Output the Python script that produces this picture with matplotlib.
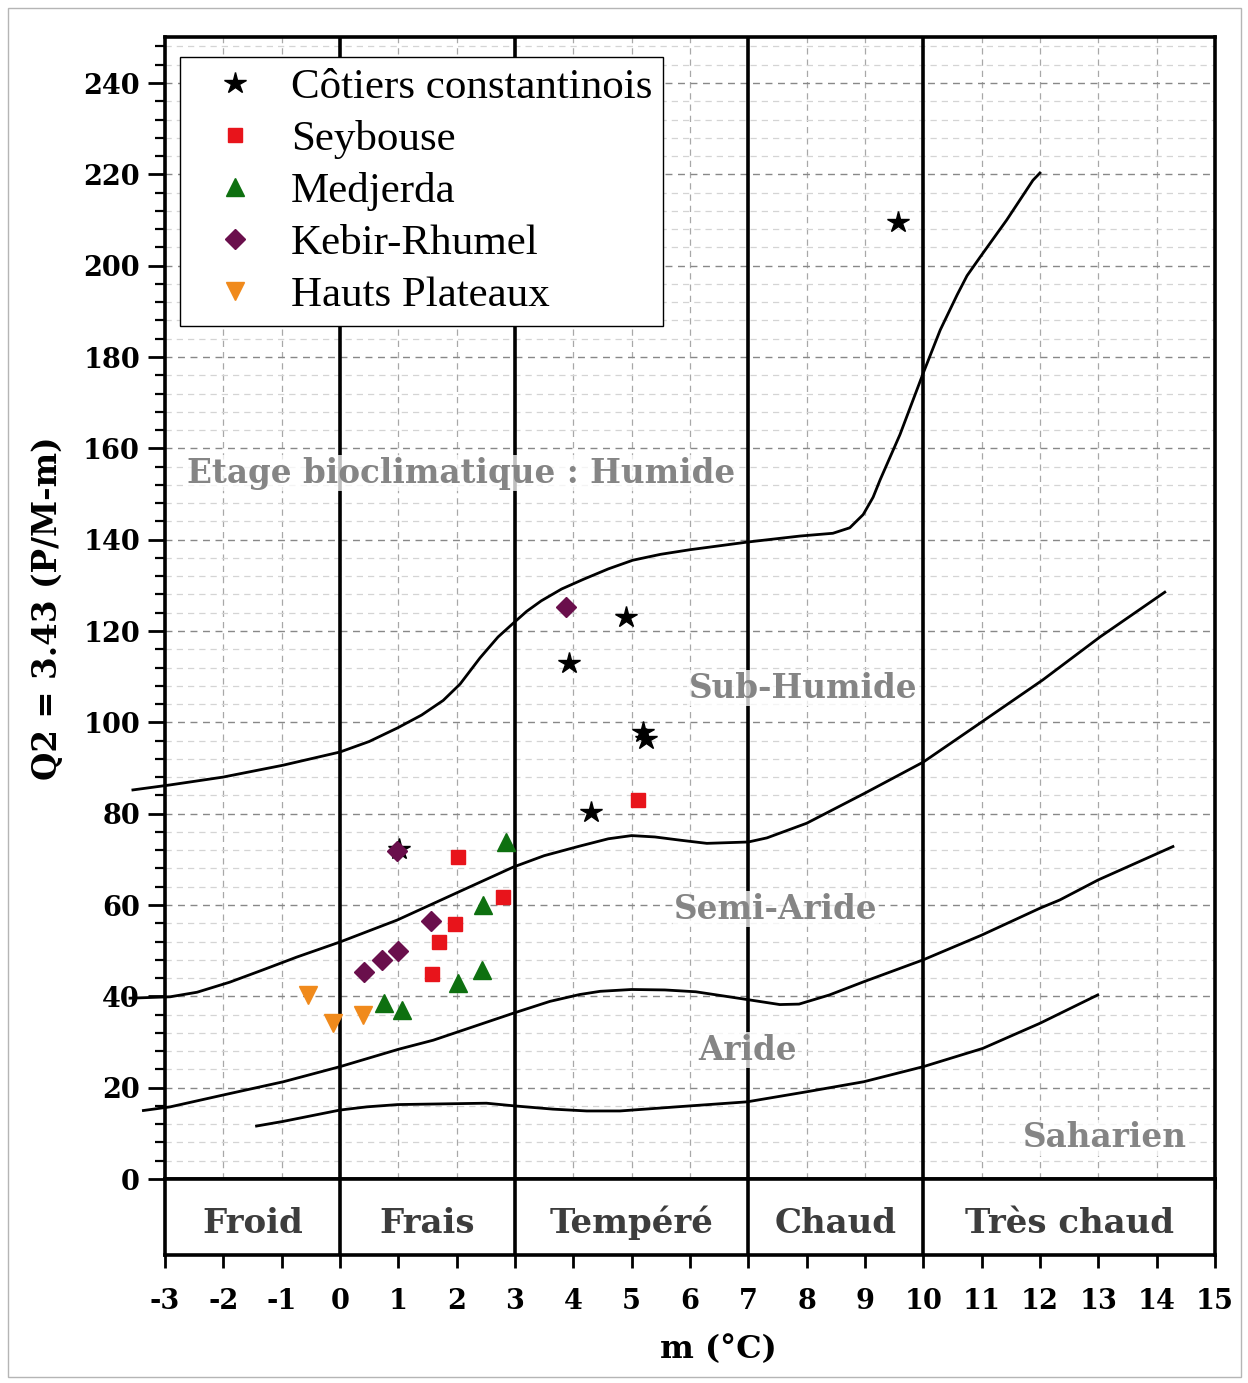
import matplotlib.pyplot as plt
from matplotlib.patches import Rectangle
from matplotlib.ticker import MultipleLocator

plt.rcParams['font.family'] = ['DejaVu Serif']
plt.rcParams['axes.unicode_minus'] = False

# stations : m (°C) et Q2
cotiers_m = [9.57, 4.90, 3.93, 5.19, 5.25, 4.30, 1.01]
cotiers_q2 = [209.6, 123.1, 112.9, 97.9, 96.3, 80.4, 72.3]
seybouse_m = [5.11, 2.02, 2.79, 1.97, 1.70, 1.58]
seybouse_q2 = [83.0, 70.5, 61.7, 55.8, 51.9, 44.9]
medjerda_m = [2.85, 2.45, 2.43, 2.02, 0.75, 1.06]
medjerda_q2 = [73.8, 60.0, 45.8, 42.9, 38.5, 37.0]
kebir_m = [3.87, 0.98, 1.56, 0.99, 0.72, 0.41]
kebir_q2 = [125.3, 71.8, 56.5, 49.9, 48.0, 45.3]
hauts_m = [-0.55, -0.12, 0.39]
hauts_q2 = [40.3, 34.2, 35.9]

humide_m = [-3.55, -2.91, -2.01, -0.98, 0.0, 0.5, 0.99, 1.4, 1.77, 2.06, 2.40, 2.71, 2.97, 3.2,
            3.45, 3.8, 4.17, 4.6, 5.02, 5.5, 6.0, 7.0, 7.89, 8.45, 8.74, 8.97, 9.14, 9.26, 9.6,
            10.0, 10.29, 10.58, 10.75, 10.97, 11.43, 11.88, 12.0]
humide_q2 = [85.2, 86.3, 88.0, 90.6, 93.5, 95.8, 98.8, 101.6, 104.8, 108.4, 114.1, 118.7, 121.7,
             124.3, 126.6, 129.2, 131.3, 133.6, 135.5, 136.8, 137.8, 139.5, 140.8, 141.4, 142.6,
             145.5, 149.3, 153.1, 163.0, 176.5, 185.9, 193.6, 197.8, 201.8, 210.0, 218.7, 220.3]
subhum_m = [-3.6, -2.91, -2.45, -1.89, -1.32, -0.74, 0.0, 0.98, 2.11, 2.97, 3.5, 4.11, 4.6, 5.0,
            5.4, 5.83, 6.29, 7.0, 7.32, 8.0, 9.0, 10.0, 10.97, 12.05, 13.03, 14.14]
subhum_q2 = [39.6, 39.9, 40.9, 43.1, 45.8, 48.6, 51.9, 56.7, 63.3, 68.3, 70.8, 72.9, 74.5, 75.2,
             74.9, 74.2, 73.5, 73.8, 74.7, 77.9, 84.5, 91.3, 99.8, 109.3, 118.7, 128.5]
semiar_m = [-3.37, -2.91, -2.0, -0.97, 0.0, 1.0, 1.6, 2.97, 3.6, 4.11, 4.46, 5.0, 5.57, 6.10,
            6.98, 7.54, 7.87, 8.39, 8.98, 10.0, 11.0, 12.0, 12.34, 13.0, 14.28]
semiar_q2 = [15.0, 15.8, 18.4, 21.3, 24.6, 28.4, 30.4, 36.3, 38.9, 40.4, 41.1, 41.5, 41.4, 41.0,
             39.3, 38.2, 38.3, 40.3, 43.2, 48.0, 53.4, 59.3, 61.1, 65.5, 72.8]
aride_m = [-1.43, -0.98, 0.0, 0.46, 0.99, 2.51, 3.0, 3.65, 4.23, 4.8, 5.77, 6.98, 8.0, 8.98,
           10.0, 11.02, 12.0, 12.99]
aride_q2 = [11.6, 12.6, 15.1, 15.8, 16.3, 16.6, 16.0, 15.3, 14.9, 14.9, 15.8, 16.9, 19.1, 21.3,
            24.6, 28.6, 34.1, 40.3]

# classes de temperature (m)
limites_m = [0, 3, 7, 10]
classes = ['Froid', 'Frais', 'Tempéré', 'Chaud', 'Très chaud']
classes_x = [-1.5, 1.5, 5, 8.5, 12.5]

etages = ['Etage bioclimatique : Humide', 'Sub-Humide', 'Semi-Aride', 'Aride', 'Saharien']
etages_x = [2.07, 7.94, 7.47, 6.98, 13.11]
etages_y = [154.6, 107.5, 59.1, 28.2, 9.0]

fig = plt.figure(figsize=(12.48, 13.83), dpi=100)
ax = fig.add_axes([0.1322, 0.1475, 0.8413, 0.8255])
band = fig.add_axes([0.1322, 0.0926, 0.8413, 0.0549])

ax.set_xlim(-3, 15)
ax.set_ylim(0, 250)
ax.yaxis.set_major_locator(MultipleLocator(20))
ax.yaxis.set_minor_locator(MultipleLocator(4))
ax.xaxis.set_major_locator(MultipleLocator(1))
ax.set_xticklabels([])
ax.grid(which='major', axis='x', ls=(0, (5, 4)), color='#a8a8a8', lw=0.9)
ax.grid(which='major', axis='y', ls=(0, (5, 4)), color='#888888', lw=1.0)
ax.grid(which='minor', axis='y', ls=(0, (5, 4)), color='#d4d4d4', lw=0.9)
ax.set_axisbelow(True)
ax.tick_params(axis='y', which='major', direction='out', length=12, width=2, labelsize=19.5, pad=6)
ax.tick_params(axis='y', which='minor', direction='out', length=7, width=1.6)
ax.tick_params(axis='x', which='major', direction='out', length=7, width=2)
for lab in ax.get_yticklabels():
    lab.set_fontweight('bold')
for s in ax.spines.values():
    s.set_linewidth(2.6)

# courbes limites
for cm, cq in [(humide_m, humide_q2), (subhum_m, subhum_q2), (semiar_m, semiar_q2), (aride_m, aride_q2)]:
    ax.plot(cm, cq, color='k', lw=2.0, clip_on=False, zorder=3, solid_joinstyle='round')

for v in limites_m:
    ax.axvline(v, color='k', lw=2.6, zorder=2)
    band.axvline(v, color='k', lw=2.6)

# etiquettes des etages
for t, x, y in zip(etages, etages_x, etages_y):
    ax.text(x, y, t, ha='center', va='center', fontsize=23.5, fontweight='bold', color='#858585',
            zorder=4, bbox=dict(facecolor='white', edgecolor='none', alpha=0.75, pad=1))

ax.plot(cotiers_m, cotiers_q2, ls='none', marker='*', ms=16, color='k', mec='k', label='Côtiers constantinois', zorder=6)
ax.plot(seybouse_m, seybouse_q2, ls='none', marker='s', ms=10, color='#e8141b', mec='#e8141b', label='Seybouse', zorder=6)
ax.plot(medjerda_m, medjerda_q2, ls='none', marker='^', ms=13, color='#0e7010', mec='#0e7010', label='Medjerda', zorder=6)
ax.plot(kebir_m, kebir_q2, ls='none', marker='D', ms=10, color='#6a0f4c', mec='#6a0f4c', label='Kebir-Rhumel', zorder=6)
ax.plot(hauts_m, hauts_q2, ls='none', marker='v', ms=13, color='#f08a1c', mec='#f08a1c', label='Hauts Plateaux', zorder=6)

leg = ax.legend(loc='upper left', bbox_to_anchor=(0.0143, 0.983), prop={'family': 'Liberation Serif', 'size': 31},
                frameon=True, fancybox=False, edgecolor='k', framealpha=1, borderpad=0.25, handlelength=2.05,
                handletextpad=0.28, labelspacing=0.3, borderaxespad=0, numpoints=1)
leg.get_frame().set_linewidth(1.0)
leg.set_zorder(10)

ax.set_ylabel('Q2 = 3.43 (P/M-m)', fontsize=23.5, fontweight='bold', labelpad=14)

# bande des classes de temperature
band.set_xlim(-3, 15)
band.set_ylim(0, 1)
band.set_yticks([])
band.xaxis.set_major_locator(MultipleLocator(1))
band.tick_params(axis='x', direction='out', length=9.5, width=2, labelsize=19.5, pad=14)
for lab in band.get_xticklabels():
    lab.set_fontweight('bold')
for s in band.spines.values():
    s.set_linewidth(2.6)
for t, x in zip(classes, classes_x):
    band.text(x, 0.42, t, ha='center', va='center', fontsize=24.5, fontweight='bold', color='#3d3d3d')
band.set_xlabel('m (°C)', fontsize=23, fontweight='bold')
band.xaxis.label.set_va('center')
band.xaxis.set_label_coords(0.527, -1.25)

fig.patches.append(Rectangle((0.0064, 0.004), 0.988, 0.990, transform=fig.transFigure,
                             fill=False, ec='#b5b5b5', lw=1))

fig.savefig('out.png', dpi=100)
